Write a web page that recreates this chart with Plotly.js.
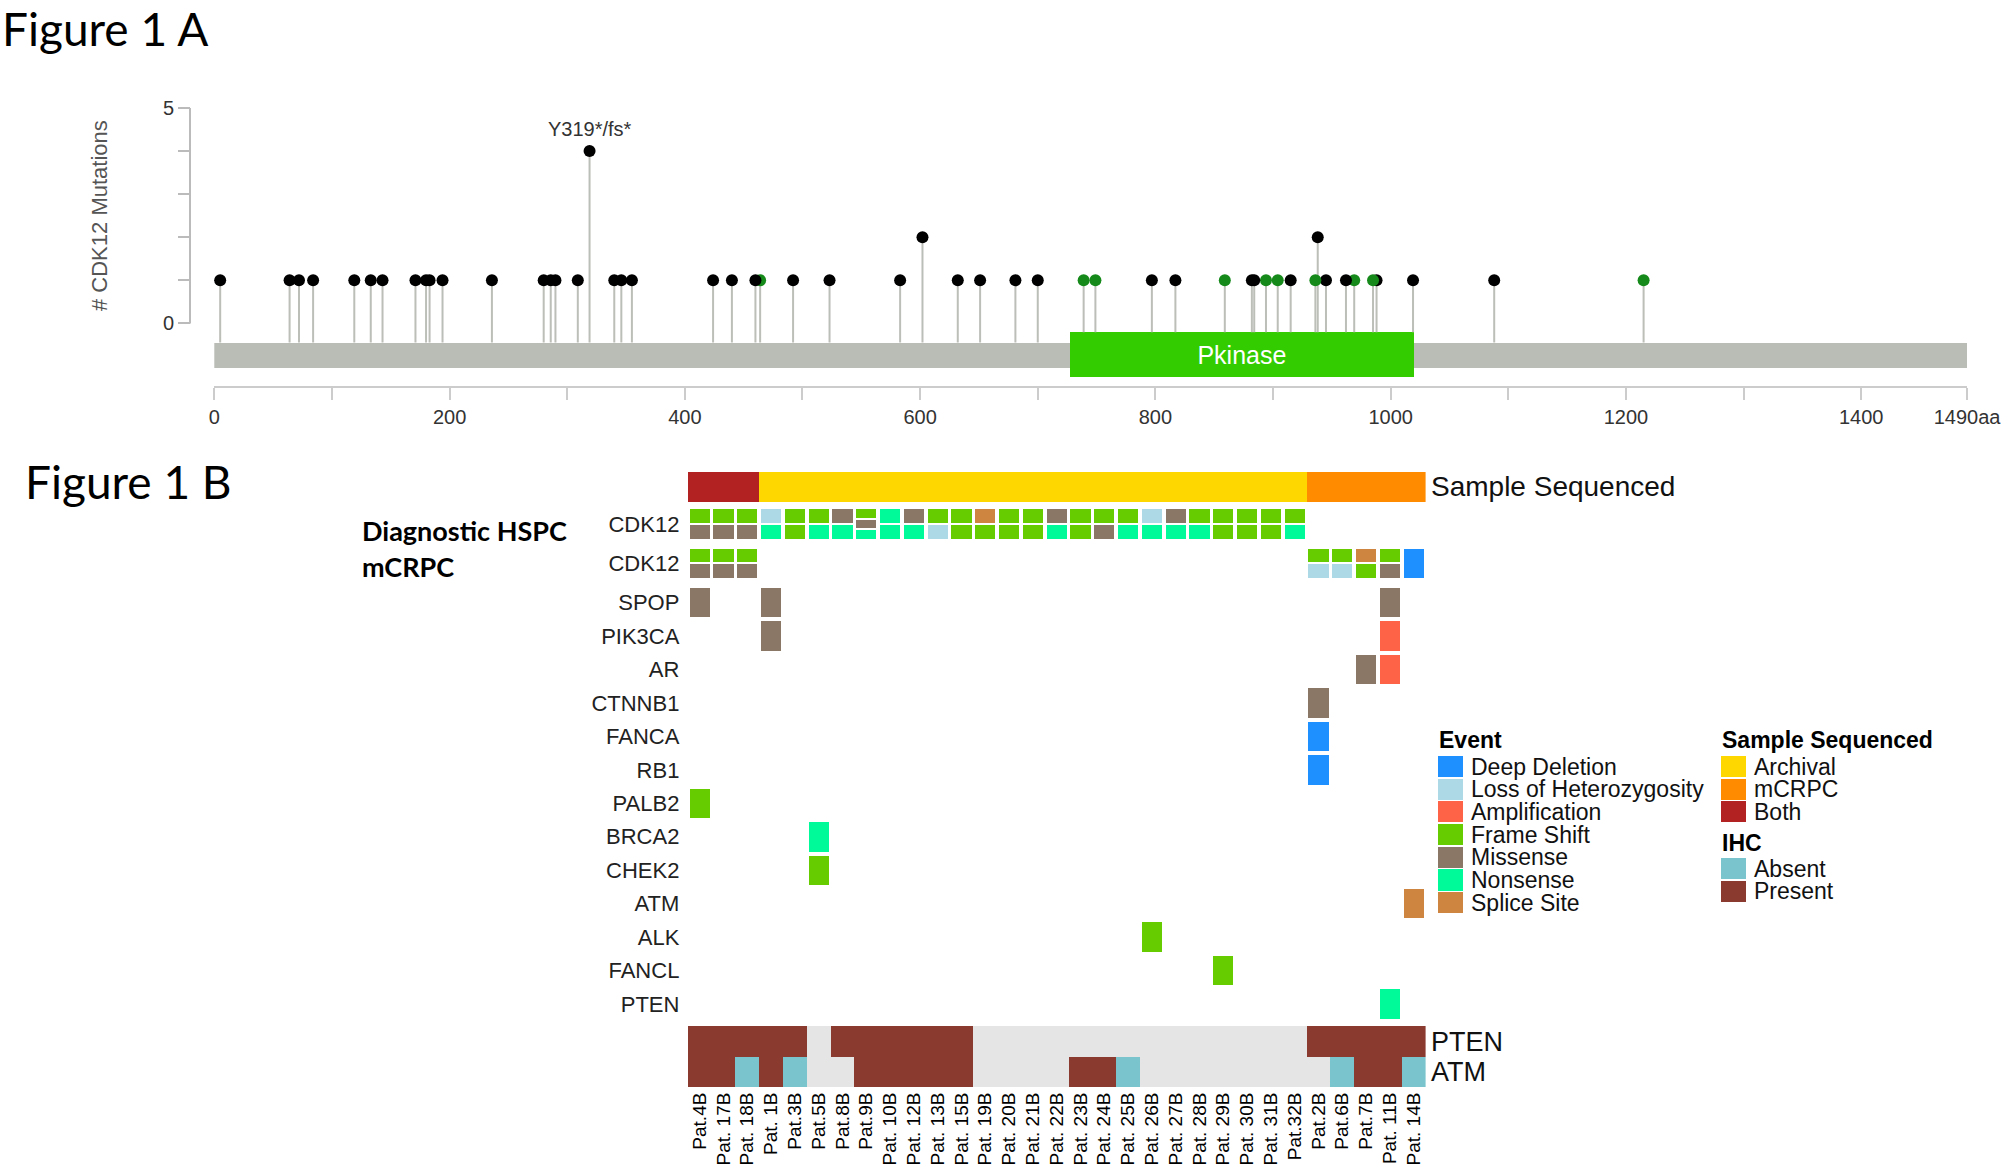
<!DOCTYPE html>
<html><head><meta charset="utf-8">
<script src="https://cdn.plot.ly/plotly-3.0.1.min.js"></script>
<style>html,body{margin:0;padding:0;background:#fff;}#chart{width:2012px;height:1171px;}</style>
</head><body><div id="chart"></div>
<script>
// ================= Figure 1A data =================
const proteinLength = 1490;
const domainNames = ['Pkinase'];
const domainStart = [727];
const domainEnd = [1020];
const mutPos = [5,64,72,84,119,133,143,171,180,183,194,236,280,286,290,309,319,340,346,355,
  424,440,460,464,492,523,583,602,632,651,681,700,739,749,797,817,859,882,884,894,904,915,
  936,938,945,962,969,985,988,1019,1088,1215];
const mutCount = [1,1,1,1,1,1,1,1,1,1,1,1,1,1,1,1,4,1,1,1,
  1,1,1,1,1,1,1,2,1,1,1,1,1,1,1,1,1,1,1,1,1,1,
  1,2,1,1,1,1,1,1,1,1];
const mutClass = ['T','T','T','T','T','T','T','T','T','T','T','T','T','T','T','T','T','T','T','T',
  'T','T','T','M','T','T','T','T','T','T','T','T','M','M','T','T','M','T','T','M','M','T',
  'M','T','T','T','M','M','T','T','T','M'];
const hotspotText = ['Y319*/fs*'];
const hotspotPos = [319];
const xTickVals = [0,100,200,300,400,500,600,700,800,900,1000,1100,1200,1300,1400,1490];
const xTickText = ['0','','200','','400','','600','','800','','1000','','1200','','1400','1490aa'];

// ================= Figure 1B data =================
const patients = ['Pat.4B','Pat. 17B','Pat. 18B','Pat. 1B','Pat.3B','Pat.5B','Pat.8B','Pat.9B','Pat. 10B','Pat. 12B',
  'Pat. 13B','Pat. 15B','Pat. 19B','Pat. 20B','Pat. 21B','Pat. 22B','Pat. 23B','Pat. 24B','Pat. 25B','Pat. 26B',
  'Pat. 27B','Pat. 28B','Pat. 29B','Pat. 30B','Pat. 31B','Pat.32B','Pat.2B','Pat.6B','Pat.7B','Pat. 11B','Pat. 14B'];
const sampleSequenced = ['Both','Both','Both','Archival','Archival','Archival','Archival','Archival','Archival','Archival',
  'Archival','Archival','Archival','Archival','Archival','Archival','Archival','Archival','Archival','Archival',
  'Archival','Archival','Archival','Archival','Archival','Archival','mCRPC','mCRPC','mCRPC','mCRPC','mCRPC'];
// event codes: D deep deletion, L LOH, A amplification, F frame shift, M missense, N nonsense, S splice site
const cdk12Hspc = ['F/M','F/M','F/M','L/N','F/F','F/N','M/N','F/M/N','N/N','M/N',
  'F/L','F/F','S/F','F/F','F/F','M/N','F/F','F/M','F/N','L/N',
  'M/N','F/N','F/F','F/F','F/F','F/N','','','','',''];
const cdk12Mcrpc = ['F/M','F/M','F/M','','','','','','','',
  '','','','','','','','','','',
  '','','','','','','F/L','F/L','S/F','F/M','D'];
const spop   = ['M','','','M','','','','','','', '','','','','','','','','','', '','','','','','','','','','M',''];
const pik3ca = ['','','','M','','','','','','', '','','','','','','','','','', '','','','','','','','','','A',''];
const ar     = ['','','','','','','','','','', '','','','','','','','','','', '','','','','','','','','M','A',''];
const ctnnb1 = ['','','','','','','','','','', '','','','','','','','','','', '','','','','','','M','','','',''];
const fanca  = ['','','','','','','','','','', '','','','','','','','','','', '','','','','','','D','','','',''];
const rb1    = ['','','','','','','','','','', '','','','','','','','','','', '','','','','','','D','','','',''];
const palb2  = ['F','','','','','','','','','', '','','','','','','','','','', '','','','','','','','','','',''];
const brca2  = ['','','','','','N','','','','', '','','','','','','','','','', '','','','','','','','','','',''];
const chek2  = ['','','','','','F','','','','', '','','','','','','','','','', '','','','','','','','','','',''];
const atm    = ['','','','','','','','','','', '','','','','','','','','','', '','','','','','','','','','','S'];
const alk    = ['','','','','','','','','','', '','','','','','','','','','F', '','','','','','','','','','',''];
const fancl  = ['','','','','','','','','','', '','','','','','','','','','', '','','F','','','','','','','',''];
const pten   = ['','','','','','','','','','', '','','','','','','','','','', '','','','','','','','','','N',''];
const ihcPten = ['P','P','P','P','P','','P','P','P','P', 'P','P','','','','','','','','', '','','','','','','P','P','P','P','P'];
const ihcAtm  = ['P','P','A','P','A','','','P','P','P', 'P','P','','','','','P','P','A','', '','','','','','','','A','P','P','A'];

const geneLabels = ['CDK12','CDK12','SPOP','PIK3CA','AR','CTNNB1','FANCA','RB1','PALB2','BRCA2','CHEK2','ATM','ALK','FANCL','PTEN'];
const geneData = [cdk12Hspc,cdk12Mcrpc,spop,pik3ca,ar,ctnnb1,fanca,rb1,palb2,brca2,chek2,atm,alk,fancl,pten];
const eventCodes = ['D','L','A','F','M','N','S'];
const eventNames = ['Deep Deletion','Loss of Heterozygosity','Amplification','Frame Shift','Missense','Nonsense','Splice Site'];
const sampleCats = ['Archival','mCRPC','Both'];
const ihcCodes = ['A','P'];
const ihcNames = ['Absent','Present'];
const ihcRowLabels = ['PTEN','ATM'];

// ================= styles / layout constants =================
const eventColors = ['#1E90FF','#ADD8E6','#FF6347','#66CC00','#8B7765','#00FA9A','#CD853F'];
const sampleColors = ['#FFD700','#FF8C00','#B22222'];
const ihcColors = ['#7AC5CD','#8B3A2F'];
const naColor = '#E5E5E5';
const W = 2012, H = 1171;
const px = v => v / W;
const py = v => 1 - v / H;

// Figure 1A vertical geometry (pixels) -> axis units
const zeroPx = 323.4, unitPx = 43.1;
const uA = p => (zeroPx - p) / unitPx;
const protTop = uA(342.6), protBot = uA(368.3);
const domTop = uA(332.3), domBot = uA(377.2);
const axisLinePx = 386.2;

// Figure 1B row geometry (row units, SPOP row = 3)
const rowRefPx = 602.5, rowPitchPx = 33.47;
const rowPx = u => rowRefPx + (u - 3) * rowPitchPx;
const geneRowCenter = [0.66, 1.83, 3,4,5,6,7,8,9,10,11,12,13,14,15];
const sampleRowCenter = -0.452;
const ihcRowCenter = [16.117, 17.022];
const cellH = 0.88, ihcH = 0.905, subGap = 0.06, cellW = 0.85;
const y2Range = [17.5, -1.0];

const traces = [];
// ---- Figure 1A ----
traces.push({type:'bar', orientation:'h', x:[proteinLength], base:[0], y:[(protTop+protBot)/2],
  width:[protTop-protBot], marker:{color:'#BABDB6'}, xaxis:'x', yaxis:'y', hoverinfo:'skip', showlegend:false});
const stemX = [], stemY = [];
mutPos.forEach((p,i) => {
  const inDom = domainStart.some((s,k) => p >= s && p <= domainEnd[k]);
  stemX.push(p, p, null); stemY.push(inDom ? domTop : protTop, mutCount[i], null);
});
traces.push({type:'scatter', mode:'lines', x:stemX, y:stemY, line:{color:'#BCBEB8', width:2},
  xaxis:'x', yaxis:'y', hoverinfo:'skip', showlegend:false});
traces.push({type:'bar', orientation:'h', x:domainEnd.map((e,i)=>e-domainStart[i]), base:domainStart,
  y:domainNames.map(()=> (domTop+domBot)/2), width:domainNames.map(()=>domTop-domBot),
  marker:{color:'#33CC00'}, text:domainNames, textposition:'inside', insidetextanchor:'middle', textangle:0,
  textfont:{color:'#ffffff', size:25, family:'Liberation Sans, Arial, sans-serif'}, constraintext:'none',
  xaxis:'x', yaxis:'y', hoverinfo:'skip', showlegend:false});
const order = mutPos.map((_,i)=>i).reverse();
traces.push({type:'scatter', mode:'markers', x:order.map(i=>mutPos[i]), y:order.map(i=>mutCount[i]),
  marker:{size:12, color:order.map(i=> mutClass[i]==='M' ? '#15891A' : '#000000'), line:{width:0}},
  xaxis:'x', yaxis:'y', hoverinfo:'skip', showlegend:false, cliponaxis:false});

// ---- Figure 1B oncoprint ----
sampleCats.forEach((cat,k) => {
  const xs = []; sampleSequenced.forEach((s,c)=>{ if (s===cat) xs.push(c); });
  traces.push({type:'bar', x:xs, y:xs.map(()=>cellH), base:xs.map(()=>sampleRowCenter-cellH/2), width:1.0,
    marker:{color:sampleColors[k], line:{width:0}}, xaxis:'x2', yaxis:'y2', hoverinfo:'skip', showlegend:false});
});
const evX = eventCodes.map(()=>[]), evB = eventCodes.map(()=>[]), evH = eventCodes.map(()=>[]);
geneData.forEach((row,g) => {
  row.forEach((entry,c) => {
    if (!entry) return;
    const parts = entry.split('/');
    const n = parts.length;
    const h = (cellH - (n-1)*subGap) / n;
    parts.forEach((code,k) => {
      const e = eventCodes.indexOf(code);
      evX[e].push(c); evB[e].push(geneRowCenter[g] - cellH/2 + k*(h+subGap)); evH[e].push(h);
    });
  });
});
eventCodes.forEach((code,e) => {
  traces.push({type:'bar', x:evX[e], y:evH[e], base:evB[e], width:cellW,
    marker:{color:eventColors[e], line:{width:0}}, xaxis:'x2', yaxis:'y2', hoverinfo:'skip', showlegend:false});
});
[ihcPten, ihcAtm].forEach((row,r) => {
  const cats = ihcCodes.concat(['']);
  const cols = ihcColors.concat([naColor]);
  cats.forEach((code,k) => {
    const xs = []; row.forEach((v,c)=>{ if (v===code) xs.push(c); });
    if (!xs.length) return;
    traces.push({type:'bar', x:xs, y:xs.map(()=>ihcH), base:xs.map(()=>ihcRowCenter[r]-ihcH/2), width:1.0,
      marker:{color:cols[k], line:{width:0}}, xaxis:'x2', yaxis:'y2', hoverinfo:'skip', showlegend:false});
  });
});

// ---- Legend (own hidden axes) ----
const legCol0 = 8, legCol1 = 291, swW = 24.5, swH = 0.93;
const legItems = [];
eventNames.forEach((nm,i)=> legItems.push({x:legCol0, r:i+1, name:nm, color:eventColors[i]}));
sampleCats.forEach((nm,i)=> legItems.push({x:legCol1, r:i+1, name:nm, color:sampleColors[i]}));
ihcNames.forEach((nm,i)=> legItems.push({x:legCol1, r:5.5+i, name:nm, color:ihcColors[i]}));
legItems.forEach(it => {
  traces.push({type:'bar', orientation:'h', x:[swW], base:[it.x], y:[it.r], width:[swH],
    marker:{color:it.color, line:{width:0}}, xaxis:'x3', yaxis:'y3', hoverinfo:'skip', showlegend:false});
});

const FONT = 'Liberation Sans, Arial, sans-serif';
const TITLEFONT = 'Lato, Open Sans, sans-serif';
const annotations = [
  {text:'Figure 1 A', xref:'paper', yref:'paper', x:px(1), y:1, xanchor:'left', yanchor:'top', showarrow:false,
   borderpad:0, font:{family:TITLEFONT, size:46, color:'#000'}},
  {text:'Figure 1 B', xref:'paper', yref:'paper', x:px(23), y:py(482), xanchor:'left', yanchor:'middle', showarrow:false,
   font:{family:TITLEFONT, size:46, color:'#000'}},
  {text:'# CDK12 Mutations', xref:'paper', yref:'paper', x:px(100), y:py(216), textangle:-90, showarrow:false,
   xanchor:'center', yanchor:'middle', font:{family:FONT, size:22, color:'#555'}},
  {text:'<b>Diagnostic HSPC</b>', xref:'paper', yref:'paper', x:px(360), y:py(530), xanchor:'left', yanchor:'middle',
   showarrow:false, font:{family:TITLEFONT, size:27, color:'#000'}},
  {text:'<b>mCRPC</b>', xref:'paper', yref:'paper', x:px(360), y:py(566), xanchor:'left', yanchor:'middle',
   showarrow:false, font:{family:TITLEFONT, size:27, color:'#000'}},
  {text:'Sample Sequenced', xref:'paper', yref:'y2', x:px(1429), y:sampleRowCenter, xanchor:'left', yanchor:'middle',
   showarrow:false, font:{family:FONT, size:28, color:'#111'}},
];
hotspotText.forEach((t,i)=> annotations.push({text:t, xref:'x', yref:'y', x:hotspotPos[i],
  y:mutCount[mutPos.indexOf(hotspotPos[i])], yshift:22, showarrow:false, xanchor:'center', yanchor:'middle',
  font:{family:FONT, size:20, color:'#333'}}));
ihcRowLabels.forEach((t,i)=> annotations.push({text:t, xref:'paper', yref:'y2', x:px(1429), y:ihcRowCenter[i],
  xanchor:'left', yanchor:'middle', showarrow:false, font:{family:FONT, size:27, color:'#111'}}));
[['Event',legCol0,-0.17],['Sample Sequenced',legCol1,-0.17],['IHC',legCol1,4.37]].forEach(t =>
  annotations.push({text:'<b>'+t[0]+'</b>', xref:'x3', yref:'y3', x:t[1]-1, y:t[2], xanchor:'left', yanchor:'middle',
    showarrow:false, font:{family:FONT, size:23, color:'#000'}}));
legItems.forEach(it => annotations.push({text:it.name, xref:'x3', yref:'y3', x:it.x+swW+6, y:it.r,
  xanchor:'left', yanchor:'middle', showarrow:false, font:{family:FONT, size:23, color:'#111'}}));

const shapes = [
  {type:'line', xref:'paper', yref:'y', x0:px(190), x1:px(190), y0:0, y1:5, line:{color:'#BBBBBB', width:2}}
];

const layout = {
  width:W, height:H, margin:{l:0,r:0,t:0,b:0}, paper_bgcolor:'#fff', plot_bgcolor:'rgba(0,0,0,0)',
  barmode:'overlay', bargap:0, showlegend:false, font:{family:FONT, color:'#222'},
  xaxis:{domain:[px(214.3), px(1967.1)], range:[0, proteinLength], anchor:'y', showgrid:false, zeroline:false,
    showline:true, linecolor:'#CCCCCC', linewidth:2, ticks:'outside', ticklen:12, tickwidth:2, tickcolor:'#CCCCCC',
    tickmode:'array', tickvals:xTickVals, ticktext:xTickText, tickfont:{size:20, color:'#333'}, fixedrange:true},
  yaxis:{domain:[py(axisLinePx), py(zeroPx - 5*unitPx)], range:[uA(axisLinePx), 5], anchor:'free', position:px(190),
    showgrid:false, zeroline:false, showline:false, ticks:'outside', ticklen:12, tickwidth:2, tickcolor:'#BBBBBB',
    tickmode:'array', tickvals:[0,1,2,3,4,5], ticktext:['0','','','','','5'], tickfont:{size:20, color:'#333'}, fixedrange:true},
  xaxis2:{domain:[px(687.8), px(1425.6)], range:[-0.5, patients.length-0.5], anchor:'y2', showgrid:false, zeroline:false,
    showline:false, ticks:'', tickmode:'array', tickvals:patients.map((_,i)=>i), ticktext:patients, tickangle:-90,
    tickfont:{size:19, color:'#000'}, fixedrange:true},
  yaxis2:{domain:[py(rowPx(y2Range[0])), py(rowPx(y2Range[1]))], range:y2Range, anchor:'x2', showgrid:false,
    zeroline:false, showline:false, ticks:'outside', ticklen:3, tickcolor:'rgba(0,0,0,0)', tickmode:'array',
    tickvals:geneRowCenter, ticktext:geneLabels, tickfont:{size:22, color:'#222'}, fixedrange:true},
  xaxis3:{domain:[px(1430), px(2010)], range:[0,580], anchor:'y3', visible:false, fixedrange:true},
  yaxis3:{domain:[py(930), py(720)], range:[1+(930-766.5)/22.7, 1+(720-766.5)/22.7], anchor:'x3', visible:false, fixedrange:true},
  annotations, shapes
};
Plotly.newPlot('chart', traces, layout, {displayModeBar:false, staticPlot:true});
</script></body></html>
